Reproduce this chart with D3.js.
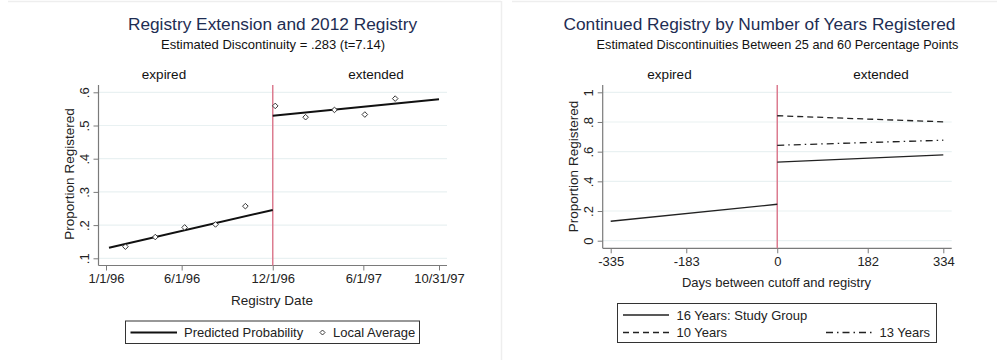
<!DOCTYPE html>
<html>
<head>
<meta charset="utf-8">
<script src="https://cdn.jsdelivr.net/npm/d3@7"></script>
<style>
  html, body { margin: 0; padding: 0; background: #fff; }
  svg { display: block; font-family: "Liberation Sans", Arial, sans-serif; }
</style>
</head>
<body>
<svg id="chart" width="997" height="360"></svg>
<script>
// ---- Panel 1: registry date regression discontinuity ----
const dateTicks = ["1996-01-01", "1996-06-01", "1996-12-01", "1997-06-01", "1997-10-31"];
const dateTickLabels = ["1/1/96", "6/1/96", "12/1/96", "6/1/97", "10/31/97"];
const cutoffDate = "1996-12-01";
const propTicks1 = [0.1, 0.2, 0.3, 0.4, 0.5, 0.6];
const propTickLabels1 = [".1", ".2", ".3", ".4", ".5", ".6"];

// Fitted lines on either side of the cutoff
const predictedBefore = [["1996-01-07", 0.132], ["1996-12-01", 0.2455]];
const predictedAfter = [["1996-12-01", 0.5295], ["1997-10-31", 0.579]];

// Local averages (binned means)
const localDates = ["1996-02-09", "1996-04-09", "1996-06-07", "1996-08-08", "1996-10-07",
                    "1996-12-06", "1997-02-05", "1997-04-04", "1997-06-04", "1997-08-04"];
const localValues = [0.135, 0.164, 0.193, 0.202, 0.257, 0.559, 0.525, 0.547, 0.533, 0.581];

// ---- Panel 2: continued registry by cohort ----
const dayTicks = [-335, -183, 0, 182, 334];
const propTicks2 = [0, 0.2, 0.4, 0.6, 0.8, 1];
const propTickLabels2 = ["0", ".2", ".4", ".6", ".8", "1"];

const seriesNames = ["16 Years: Study Group", "10 Years", "13 Years"];
const seriesDays = [
  [[-335, 0], [0, 334]],
  [[0, 334]],
  [[0, 334]]
];
const seriesValues = [
  [[0.131, 0.2455], [0.5295, 0.579]],
  [[0.842, 0.801]],
  [[0.643, 0.677]]
];

const svg = d3.select("#chart");
const parse = d3.utcParse("%Y-%m-%d");

const TITLE = "#1e2d53";
const GRID = "#e9f1f2";
const AXIS = "#7a7a7a";
const CUT = "#dc7c90";
const FONT = "Liberation Sans, Arial, sans-serif";

// Outer panel frames
svg.append("line").attr("x1", 8).attr("x2", 501).attr("y1", 1.5).attr("y2", 1.5)
  .attr("stroke", "#eeeeee").attr("stroke-width", 1.5);
svg.append("line").attr("x1", 512).attr("x2", 997).attr("y1", 1.5).attr("y2", 1.5)
  .attr("stroke", "#eeeeee").attr("stroke-width", 1.5);
svg.append("line").attr("x1", 501.5).attr("x2", 501.5).attr("y1", 1).attr("y2", 360)
  .attr("stroke", "#eeeeee").attr("stroke-width", 1.5);

function drawText(x, y, txt, size, color, anchor) {
  return svg.append("text").attr("x", x).attr("y", y).attr("text-anchor", anchor || "middle")
    .attr("font-size", size).attr("fill", color || "#111").text(txt);
}

function yTitle(x, y, txt) {
  return svg.append("text").attr("transform", `translate(${x},${y}) rotate(-90)`)
    .attr("text-anchor", "middle").attr("dy", "0.35em")
    .attr("font-size", 13.5).attr("fill", "#222").text(txt);
}

// small hollow diamond marker
function diamondPath(r) {
  return `M0,${-r}L${r},0L0,${r}L${-r},0Z`;
}

function yAxisPanel(g, y, ticks, labels, xAxis, xRight) {
  g.selectAll(".grid").data(ticks).join("line")
    .attr("x1", xAxis).attr("x2", xRight)
    .attr("y1", d => y(d)).attr("y2", d => y(d))
    .attr("stroke", GRID).attr("stroke-width", 1.2);
  const ax = g.append("g").attr("transform", `translate(${xAxis},0)`)
    .call(d3.axisLeft(y).tickValues(ticks).tickFormat((d, i) => labels[i]).tickSize(5).tickPadding(4));
  ax.select(".domain").remove();
  ax.selectAll(".tick line").attr("stroke", AXIS);
  ax.selectAll(".tick text")
    .attr("font-size", 13).attr("fill", "#222").attr("font-family", FONT)
    .attr("transform", "rotate(-90, -14, 0)")
    .attr("text-anchor", "middle").attr("dy", "0.32em")
    .attr("x", -14).attr("y", 0);
  return ax;
}

function xAxisStyle(xa) {
  xa.select(".domain").remove();
  xa.selectAll(".tick line").attr("stroke", AXIS);
  xa.selectAll(".tick text").attr("font-size", 13).attr("fill", "#222").attr("font-family", FONT);
}

// ===== Panel 1 =====
{
  const top = 85, bottom = 265.5, left = 98.5, right = 447;
  const x = d3.scaleUtc().domain([parse(dateTicks[0]), parse(dateTicks[4])]).range([106, 439]);
  const y = d3.scaleLinear().domain([0.1, 0.6]).range([258.3, 92.3]);
  const g = svg.append("g");

  drawText(272.5, 30, "Registry Extension and 2012 Registry", 17.3, TITLE);
  drawText(273, 49, "Estimated Discontinuity = .283 (t=7.14)", 13, "#111");
  drawText(164, 79, "expired", 13.5, "#111");
  drawText(376, 79, "extended", 13.5, "#111");
  yTitle(69.5, 174, "Proportion Registered");

  yAxisPanel(g, y, propTicks1, propTickLabels1, left, right);
  g.append("line").attr("x1", left).attr("x2", left).attr("y1", top).attr("y2", bottom)
    .attr("stroke", AXIS).attr("stroke-width", 1.2);

  const xa = g.append("g").attr("transform", `translate(0,${bottom})`)
    .call(d3.axisBottom(x).tickValues(dateTicks.map(parse))
      .tickFormat((d, i) => dateTickLabels[i]).tickSize(5).tickPadding(3));
  xAxisStyle(xa);
  g.append("line").attr("x1", left).attr("x2", right).attr("y1", bottom).attr("y2", bottom)
    .attr("stroke", AXIS).attr("stroke-width", 1.2);

  drawText(272, 305, "Registry Date", 13.5, "#222");

  // cutoff
  g.append("line").attr("x1", x(parse(cutoffDate))).attr("x2", x(parse(cutoffDate)))
    .attr("y1", top).attr("y2", bottom).attr("stroke", CUT).attr("stroke-width", 1.5);

  const line = d3.line().x(d => x(parse(d[0]))).y(d => y(d[1]));
  [predictedBefore, predictedAfter].forEach(seg => {
    g.append("path").attr("d", line(seg)).attr("fill", "none")
      .attr("stroke", "#111").attr("stroke-width", 2);
  });

  g.selectAll(".avg").data(localDates).join("path")
    .attr("d", diamondPath(2.8))
    .attr("transform", (d, i) => `translate(${x(parse(d))},${y(localValues[i])})`)
    .attr("fill", "#fff").attr("stroke", "#222").attr("stroke-width", 0.9);

  // legend
  g.append("rect").attr("x", 125.5).attr("y", 321).attr("width", 294).attr("height", 22.5)
    .attr("fill", "#fff").attr("stroke", "#333").attr("stroke-width", 1);
  g.append("line").attr("x1", 130.5).attr("x2", 177).attr("y1", 332.5).attr("y2", 332.5)
    .attr("stroke", "#111").attr("stroke-width", 2);
  drawText(184, 337, "Predicted Probability", 13, "#222", "start");
  g.append("path").attr("d", diamondPath(2.5)).attr("transform", "translate(322.5,332.5)")
    .attr("fill", "#fff").attr("stroke", "#222").attr("stroke-width", 0.9);
  drawText(333, 337, "Local Average", 13, "#222", "start");
}

// ===== Panel 2 =====
{
  const top = 85, bottom = 248.3, left = 602.7, right = 951.7;
  const x = d3.scaleLinear().domain([-335, 334]).range([610.7, 943.3]);
  const y = d3.scaleLinear().domain([0, 1]).range([240.7, 92.3]);
  const g = svg.append("g");

  drawText(759.5, 30, "Continued Registry by Number of Years Registered", 17.3, TITLE);
  drawText(777.5, 49, "Estimated Discontinuities Between 25 and 60 Percentage Points", 12.7, "#111");
  drawText(669.5, 79, "expired", 13.5, "#111");
  drawText(881, 79, "extended", 13.5, "#111");
  yTitle(573, 166.5, "Proportion Registered");

  yAxisPanel(g, y, propTicks2, propTickLabels2, left, right);
  g.append("line").attr("x1", left).attr("x2", left).attr("y1", top).attr("y2", bottom)
    .attr("stroke", AXIS).attr("stroke-width", 1.2);

  const xa = g.append("g").attr("transform", `translate(0,${bottom})`)
    .call(d3.axisBottom(x).tickValues(dayTicks).tickFormat(d => String(d)).tickSize(5).tickPadding(3));
  xAxisStyle(xa);
  g.append("line").attr("x1", left).attr("x2", right).attr("y1", bottom).attr("y2", bottom)
    .attr("stroke", AXIS).attr("stroke-width", 1.2);

  drawText(776.5, 287, "Days between cutoff and registry", 13, "#222");

  g.append("line").attr("x1", x(0)).attr("x2", x(0)).attr("y1", top).attr("y2", bottom)
    .attr("stroke", CUT).attr("stroke-width", 1.5);

  const dashes = [null, "6,4", "7,4,1.5,4"];
  const line = d3.line().x(d => x(d[0])).y(d => y(d[1]));
  seriesDays.forEach((segs, si) => {
    segs.forEach((days, k) => {
      const pts = days.map((d, j) => [d, seriesValues[si][k][j]]);
      g.append("path").attr("d", line(pts)).attr("fill", "none")
        .attr("stroke", "#222").attr("stroke-width", 1.3)
        .attr("stroke-dasharray", dashes[si]);
    });
  });

  // legend
  g.append("rect").attr("x", 617.5).attr("y", 303.5).attr("width", 319).attr("height", 39)
    .attr("fill", "#fff").attr("stroke", "#333").attr("stroke-width", 1);
  const rows = [[623, 315, 0], [623, 332.5, 1], [826, 332.5, 2]];
  rows.forEach(([lx, ly, si]) => {
    g.append("line").attr("x1", lx).attr("x2", lx + 46).attr("y1", ly).attr("y2", ly)
      .attr("stroke", "#222").attr("stroke-width", 1.3).attr("stroke-dasharray", dashes[si]);
    drawText(lx + 53.5, ly + 4.5, seriesNames[si], 13, "#222", "start");
  });
}
</script>
</body>
</html>
